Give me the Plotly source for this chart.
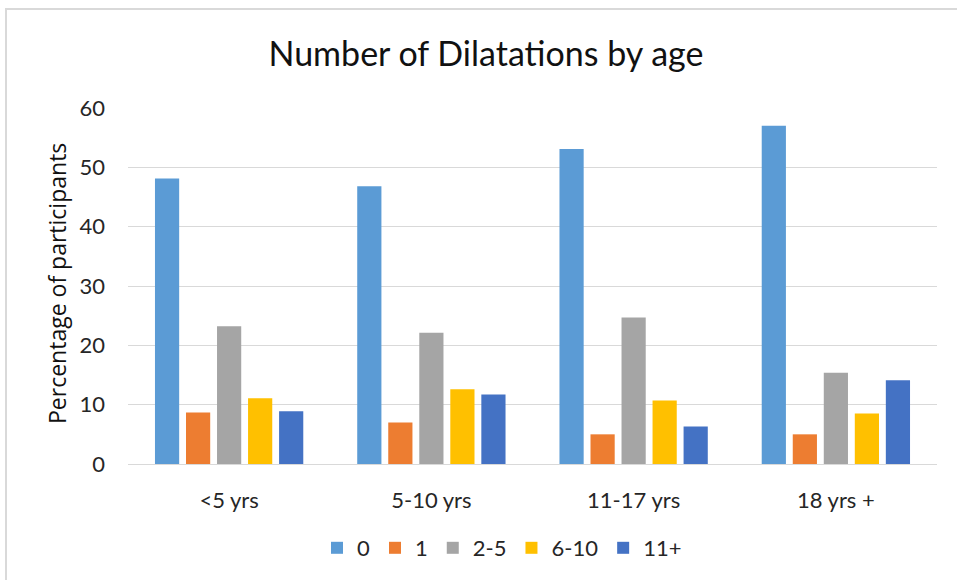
import plotly.graph_objects as go

# Age groups and dilatation-count bins
age_groups = ["<5 yrs", "5-10 yrs", "11-17 yrs", "18 yrs +"]
series_names = ["0", "1", "2-5", "6-10", "11+"]

# Percentage of participants per age group
pct_0 = [48.1, 46.8, 53.1, 57.0]
pct_1 = [8.7, 7.0, 5.0, 5.0]
pct_2_5 = [23.2, 22.1, 24.7, 15.4]
pct_6_10 = [11.1, 12.6, 10.7, 8.5]
pct_11_plus = [8.9, 11.7, 6.3, 14.1]

series_values = [pct_0, pct_1, pct_2_5, pct_6_10, pct_11_plus]
colors = ["#5B9BD5", "#ED7D31", "#A5A5A5", "#FFC000", "#4472C4"]

y_ticks = [0, 10, 20, 30, 40, 50, 60]

W, H = 957, 580
L, R, T, B = 128, 20, 108, 116

fig = go.Figure()
for name, vals, col in zip(series_names, series_values, colors):
    fig.add_trace(go.Bar(x=age_groups, y=vals, name=name, marker_color=col,
                         marker_line_width=0))

base_font = "Lato, 'Open Sans', sans-serif"

# chart frame (light grey border)
pw, ph = W - L - R, H - T - B
def px_x(p):
    return (p - L) / pw
def px_y(p):
    return (H - B - p) / ph

fig.add_shape(type="rect", xref="paper", yref="paper",
              x0=px_x(6), x1=px_x(W + 10), y0=px_y(H + 10), y1=px_y(9),
              line=dict(color="#D9D9D9", width=2), fillcolor="rgba(0,0,0,0)",
              layer="below")

fig.update_layout(
    width=W, height=H,
    margin=dict(l=L, r=R, t=T, b=B, pad=0),
    paper_bgcolor="white", plot_bgcolor="white",
    barmode="group", bargap=0.233, bargroupgap=0.22,
    title=dict(text="Number of Dilatations by age",
               font=dict(family=base_font, size=34, color="#111111"),
               xref="container", x=486 / W, xanchor="center",
               yref="container", y=1 - 54 / H, yanchor="middle"),
    xaxis=dict(showgrid=False, showline=True, linecolor="#D9D9D9", linewidth=1,
               ticks="", tickfont=dict(family=base_font, size=22, color="#262626"),
               ticklabelstandoff=17),
    yaxis=dict(range=[0, 60], tickvals=y_ticks, showgrid=True,
               gridcolor="#D9D9D9", gridwidth=1, zeroline=False, showline=False,
               ticks="", tickfont=dict(family=base_font, size=22, color="#262626"),
               ticklabelstandoff=22),
    legend=dict(orientation="h", xref="container", yref="container",
                x=502 / W, xanchor="center", y=1 - 548 / H, yanchor="middle",
                font=dict(family=base_font, size=22, color="#262626"),
                itemwidth=30, tracegroupgap=0),
    showlegend=True,
)

fig.add_annotation(text="Percentage of participants", textangle=-90,
                   xref="paper", yref="paper", x=px_x(57), y=px_y(284),
                   xanchor="center", yanchor="middle", showarrow=False,
                   font=dict(family="'Open Sans', sans-serif", size=23, color="#111111"))

fig.write_html("out.html")
